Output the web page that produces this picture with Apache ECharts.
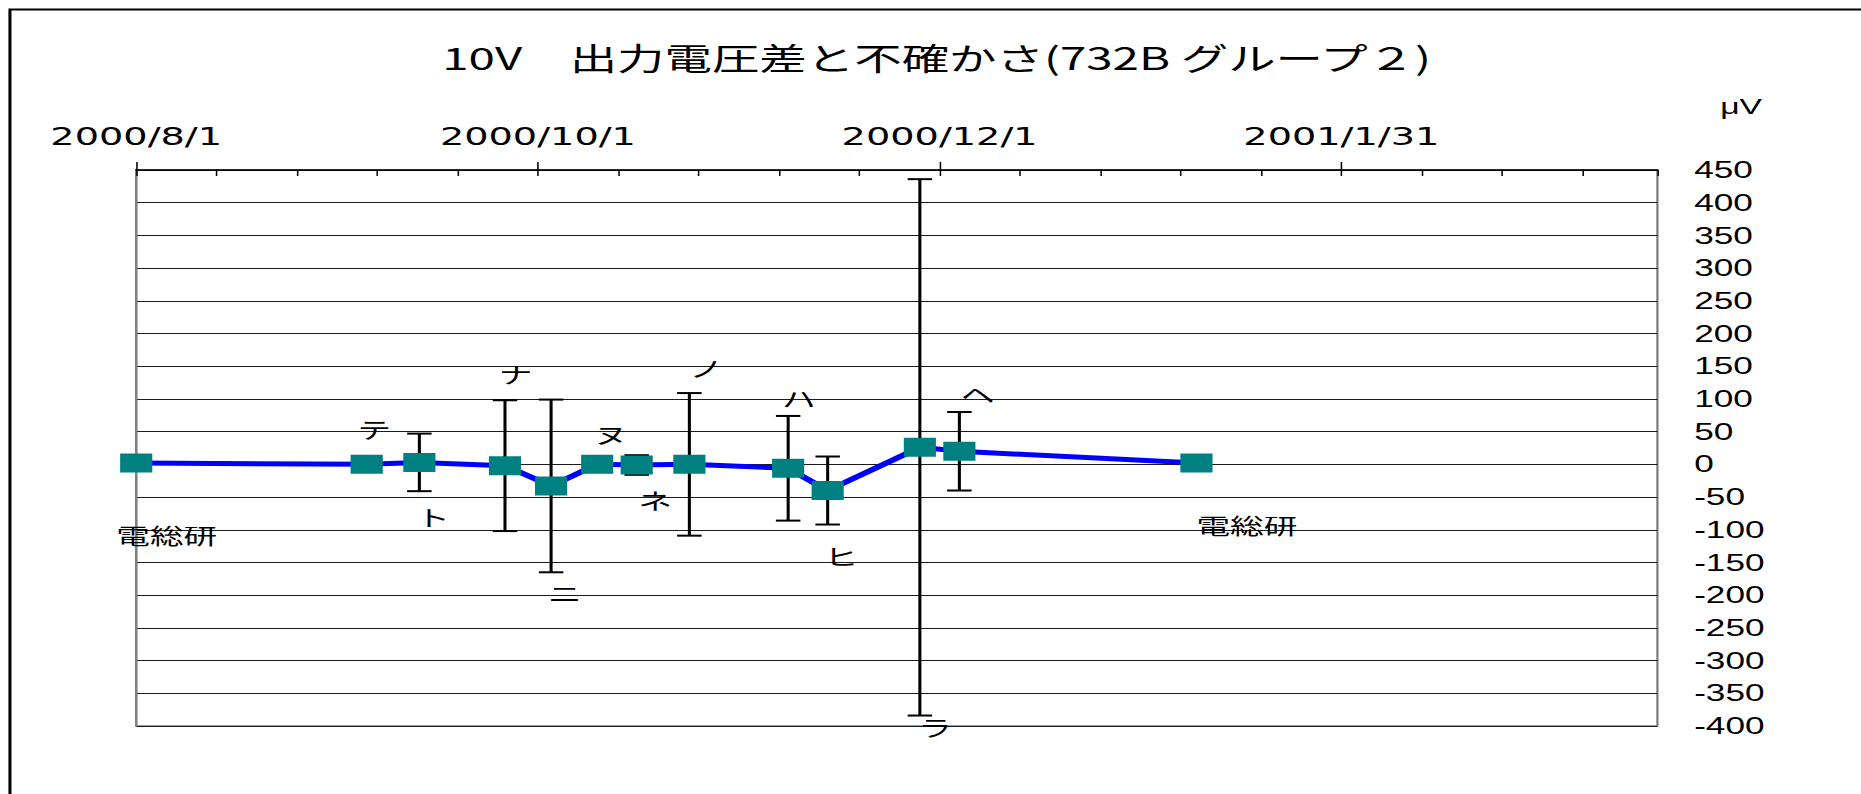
<!DOCTYPE html>
<html>
<head>
<meta charset="utf-8">
<script src="https://cdn.jsdelivr.net/npm/echarts@6/dist/echarts.min.js"></script>
<style>
  body { margin: 0; background: #fff; overflow: hidden; }
  /* the original chart is stretched sideways, so draw narrow and stretch the whole thing */
  #chart { width: 1216px; height: 794px; transform: scaleX(1.5304); transform-origin: 0 0; }
</style>
</head>
<body>
<div id="chart"></div>
<script>
// measurement dates, difference from 電総研 (μV) and uncertainty (μV)
var dates = ['2000/8/1', '2000/9/5', '2000/9/13', '2000/9/26', '2000/10/3', '2000/10/10', '2000/10/16',
             '2000/10/24', '2000/11/8', '2000/11/14', '2000/11/28', '2000/12/4', '2001/1/9'];
var diffs = [2, 0, 3, -2, -33, 0, -1, 0, -6, -40, 26, 20, 2];
var uncert = [0, 0, 44, 100, 132, 0, 15, 109, 80, 52, 410, 60, 0];
var pointNames = ['電総研', 'テ', 'ト', 'ナ', 'ニ', 'ヌ', 'ネ', 'ノ', 'ハ', 'ヒ', 'ラ', 'ヘ', '電総研'];
// label distance (px) from the bar end / point, minus = above; and sideways nudge
var labelGap = [71, -36, 25, -27, 20, -31, 25, -26, -19, 31, 11, -19, 61];
var labelDx = [-11, -4, 0, -2, 0, 0, 3, 2, -2, 0, 1, 3, 2];

var yMin = -400, yMax = 450, yStep = 50;
var xStartDate = Date.UTC(2000, 7, 1);
var xMaxDays = 231, xStep = 61;

function dayOf(s) {
  var p = s.split('/').map(Number);
  return Math.round((Date.UTC(p[0], p[1] - 1, p[2]) - xStartDate) / 864e5);
}
function dateLabel(v) {
  var d = new Date(xStartDate + v * 864e5);
  return d.getUTCFullYear() + '/' + (d.getUTCMonth() + 1) + '/' + d.getUTCDate();
}

function drawChart() {
  var chartDom = document.getElementById('chart');
  var myChart = echarts.init(chartDom, null, { renderer: 'svg' });

  var pts = dates.map(function (d, i) { return [dayOf(d), diffs[i], uncert[i], i]; });
  var latin = "'Liberation Sans', 'Noto Sans CJK JP', sans-serif";
  var jp = "'Noto Sans CJK JP', sans-serif";

  var option = {
    animation: false,
    backgroundColor: '#fff',
    title: {
      text: '10V　出力電圧差と不確かさ(732B グループ２)',
      left: 284,
      top: 36,
      textStyle: { fontFamily: jp, fontSize: 31, fontWeight: 'normal', color: '#000' }
    },
    graphic: [
      {
        type: 'rect', left: 4, top: 7, silent: true,
        shape: { width: 1400, height: 1000 },
        style: { fill: 'none', stroke: '#000', lineWidth: 2 }
      },
      {
        type: 'text', left: 1124, top: 95,
        style: { text: 'μV', font: '22px ' + latin, fill: '#000' }
      }
    ],
    grid: {
      left: 89, right: 133, top: 170, bottom: 68,
      show: true, borderColor: '#808080', borderWidth: 1.5
    },
    xAxis: [
      {
        type: 'value', position: 'top',
        min: 0, max: xMaxDays, interval: xStep,
        axisLine: { show: true, onZero: false, lineStyle: { color: '#000', width: 1.5 } },
        axisTick: { show: true, length: 8, lineStyle: { color: '#000' } },
        axisLabel: {
          margin: 21, fontSize: 25, fontFamily: "'DejaVu Sans', sans-serif", color: '#000',
          showMaxLabel: false, formatter: dateLabel
        },
        splitLine: { show: false }
      },
      {
        // small inward ticks every 12.2 days
        type: 'value', position: 'top',
        min: 0, max: xMaxDays, interval: xStep / 5,
        axisLine: { show: false, onZero: false },
        axisTick: { show: true, inside: true, length: 6, lineStyle: { color: '#000' } },
        axisLabel: { show: false },
        splitLine: { show: false }
      }
    ],
    yAxis: {
      type: 'value', position: 'right',
      min: yMin, max: yMax, interval: yStep,
      axisLine: { show: true, lineStyle: { color: '#808080', width: 1.5 } },
      axisTick: { show: false },
      axisLabel: { margin: 24, fontSize: 23, fontFamily: latin, color: '#000', align: 'left' },
      splitLine: { show: true, lineStyle: { color: '#1a1a1a', width: 1 } }
    },
    series: [
      {
        type: 'custom',
        xAxisIndex: 0,
        z: 2,
        data: pts,
        renderItem: function (params, api) {
          var x = api.value(0), y = api.value(1), e = api.value(2), i = api.value(3);
          var p = api.coord([x, y]);
          var hi = api.coord([x, y + e]);
          var lo = api.coord([x, y - e]);
          var kids = [];
          if (e > 0) {
            var st = { stroke: '#000', lineWidth: 2 };
            kids.push({ type: 'line', shape: { x1: p[0], y1: hi[1], x2: p[0], y2: lo[1] }, style: st });
            kids.push({ type: 'line', shape: { x1: p[0] - 8, y1: hi[1], x2: p[0] + 8, y2: hi[1] }, style: st });
            kids.push({ type: 'line', shape: { x1: p[0] - 8, y1: lo[1], x2: p[0] + 8, y2: lo[1] }, style: st });
          }
          var gap = labelGap[i];
          var anchor = e > 0 ? (gap < 0 ? hi[1] : lo[1]) : p[1];
          kids.push({
            type: 'text', z2: 10,
            x: p[0] - 2 + labelDx[i], y: anchor + gap,
            style: {
              text: pointNames[i], font: '22px ' + jp, fill: '#000',
              align: 'left', verticalAlign: 'middle'
            }
          });
          return { type: 'group', children: kids };
        }
      },
      {
        type: 'line',
        xAxisIndex: 0,
        z: 3,
        data: pts.map(function (p) { return [p[0], p[1]]; }),
        symbol: 'rect',
        symbolSize: [21, 19],
        lineStyle: { color: '#0000ff', width: 5 },
        itemStyle: { color: '#008080' }
      }
    ]
  };

  option && myChart.setOption(option);
}

window.onload = function () {
  drawChart();
};
</script>
</body>
</html>
